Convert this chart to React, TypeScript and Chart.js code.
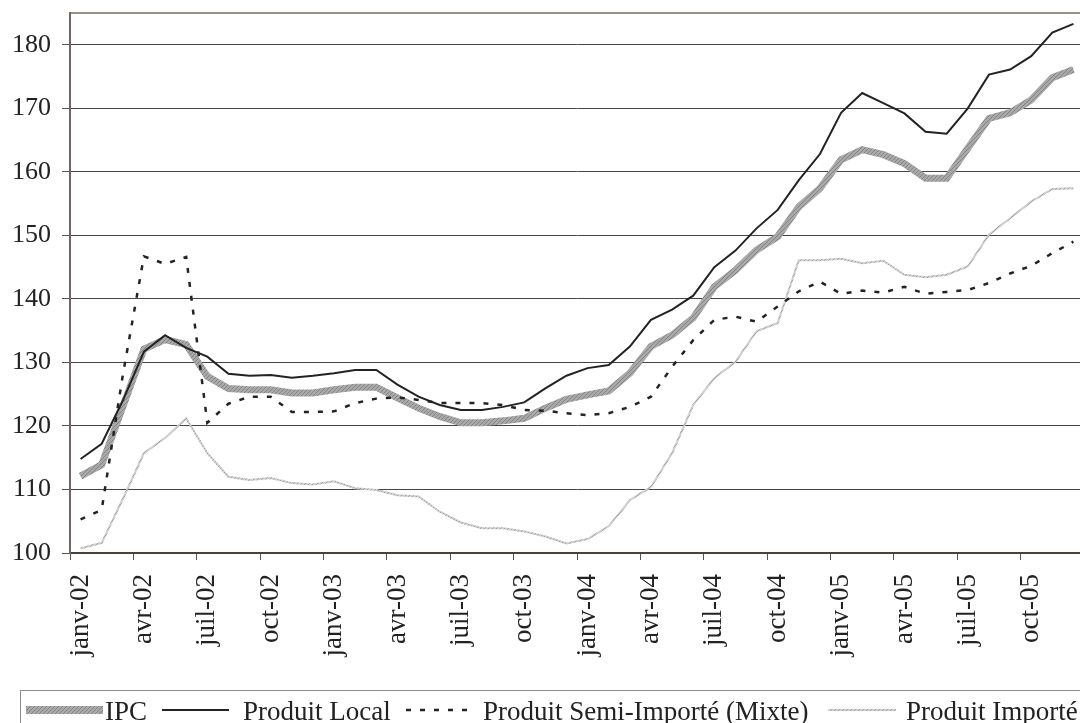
import React, { useEffect, useRef } from 'react';
import { Chart, registerables } from 'chart.js';

Chart.register(...registerables);

const LABELS = [
  'janv-02', 'févr-02', 'mars-02', 'avr-02', 'mai-02', 'juin-02', 'juil-02', 'août-02', 'sept-02', 'oct-02', 'nov-02', 'déc-02',
  'janv-03', 'févr-03', 'mars-03', 'avr-03', 'mai-03', 'juin-03', 'juil-03', 'août-03', 'sept-03', 'oct-03', 'nov-03', 'déc-03',
  'janv-04', 'févr-04', 'mars-04', 'avr-04', 'mai-04', 'juin-04', 'juil-04', 'août-04', 'sept-04', 'oct-04', 'nov-04', 'déc-04',
  'janv-05', 'févr-05', 'mars-05', 'avr-05', 'mai-05', 'juin-05', 'juil-05', 'août-05', 'sept-05', 'oct-05', 'nov-05', 'déc-05',
];

const IPC = [
  112.1, 113.9, 123.0, 132.1, 133.6, 132.8, 127.8, 125.9, 125.7, 125.7, 125.2, 125.2,
  125.7, 126.1, 126.1, 124.4, 122.8, 121.5, 120.5, 120.5, 120.8, 121.2, 122.8, 124.2,
  124.9, 125.5, 128.3, 132.5, 134.3, 137.0, 141.9, 144.5, 147.7, 149.8, 154.5, 157.4,
  161.9, 163.5, 162.7, 161.3, 159.0, 159.0, 163.7, 168.4, 169.3, 171.3, 174.8, 176.1,
];

const LOCAL = [
  114.8, 117.2, 124.0, 131.7, 134.3, 132.3, 130.9, 128.2, 127.9, 128.0, 127.6, 127.9,
  128.3, 128.8, 128.8, 126.5, 124.6, 123.3, 122.5, 122.5, 123.0, 123.7, 125.9, 127.9,
  129.1, 129.6, 132.5, 136.7, 138.3, 140.5, 145.0, 147.6, 151.1, 154.0, 158.7, 162.8,
  169.3, 172.4, 170.8, 169.2, 166.3, 166.0, 170.0, 175.3, 176.1, 178.2, 181.9, 183.3,
];

const SEMI = [
  105.3, 106.8, 128.0, 146.7, 145.5, 146.6, 120.5, 123.5, 124.6, 124.6, 122.2, 122.2,
  122.3, 123.6, 124.3, 124.5, 124.1, 123.6, 123.6, 123.6, 123.3, 122.5, 122.4, 122.0,
  121.7, 122.0, 123.0, 124.6, 129.3, 133.5, 136.7, 137.2, 136.4, 138.8, 141.2, 142.7,
  140.8, 141.3, 141.0, 141.9, 140.8, 141.1, 141.4, 142.5, 144.0, 145.2, 147.2, 149.0,
];

const IMPORTE = [
  100.7, 101.6, 108.5, 115.7, 118.1, 121.2, 115.7, 112.0, 111.5, 111.8, 111.0, 110.8,
  111.3, 110.2, 109.9, 109.1, 108.9, 106.5, 104.8, 103.9, 103.9, 103.4, 102.6, 101.5,
  102.2, 104.2, 108.3, 110.4, 115.7, 123.3, 127.5, 130.1, 134.9, 136.2, 146.1, 146.1,
  146.3, 145.6, 146.0, 143.8, 143.4, 143.8, 145.1, 150.1, 152.7, 155.3, 157.3, 157.4,
];

const SERIES_NAMES = ['IPC', 'Produit Local', 'Produit Semi-Importé (Mixte)', 'Produit Importé'];

const Y_MIN = 100;
const Y_MAX = 185;
const Y_STEP = 10;

const W = 1100;
const H = 740;
const FONT = "'Liberation Serif', 'Times New Roman', Times, serif";

function makePattern(base: string, dot: string) {
  const pc = document.createElement('canvas');
  pc.width = 4;
  pc.height = 4;
  const p = pc.getContext('2d')!;
  p.fillStyle = base;
  p.fillRect(0, 0, 4, 4);
  p.fillStyle = dot;
  p.fillRect(0, 0, 1, 1);
  p.fillRect(2, 2, 1, 1);
  p.fillRect(1, 3, 1, 1);
  p.fillRect(3, 1, 1, 1);
  return p.createPattern(pc, 'repeat')!;
}

const legendPlugin = {
  id: 'boxLegend',
  afterDraw(chart: any) {
    const ctx = chart.ctx as CanvasRenderingContext2D;
    ctx.save();
    ctx.strokeStyle = '#8c8c8c';
    ctx.lineWidth = 1;
    ctx.setLineDash([]);
    ctx.strokeRect(20.5, 690.5, 1200, 100);
    const markerX = [26, 162, 406, 828];
    const markerLen = [77, 67, 62, 68];
    const textX = [105, 243, 483, 906];
    const my = 710;
    chart.data.datasets.forEach((ds: any, i: number) => {
      ctx.save();
      ctx.strokeStyle = ds.borderColor;
      ctx.lineWidth = i === 0 ? 8 : ds.borderWidth;
      ctx.setLineDash(ds.borderDash || []);
      ctx.lineCap = 'butt';
      ctx.beginPath();
      ctx.moveTo(markerX[i], my);
      ctx.lineTo(markerX[i] + markerLen[i], my);
      ctx.stroke();
      ctx.restore();
      ctx.fillStyle = '#222';
      ctx.font = `27px ${FONT}`;
      ctx.textBaseline = 'alphabetic';
      ctx.textAlign = 'left';
      ctx.fillText(ds.label, textX[i], 720);
    });
    ctx.restore();
  },
};

export default function App() {
  const ref = useRef<HTMLCanvasElement>(null);

  useEffect(() => {
    const canvas = ref.current!;
    const ipcPattern = makePattern('#a9a9a9', '#858585');
    const impPattern = makePattern('#cfcfcf', '#a2a2a2');

    const chart = new Chart(canvas, {
      type: 'line',
      data: {
        labels: LABELS,
        datasets: [
          {
            label: SERIES_NAMES[0],
            data: IPC,
            borderColor: ipcPattern as any,
            borderWidth: 7,
            pointRadius: 0,
            tension: 0,
            order: 4,
          },
          {
            label: SERIES_NAMES[1],
            data: LOCAL,
            borderColor: '#232323',
            borderWidth: 2,
            pointRadius: 0,
            tension: 0,
            order: 1,
          },
          {
            label: SERIES_NAMES[2],
            data: SEMI,
            borderColor: '#232323',
            borderWidth: 2.5,
            borderDash: [5, 9],
            pointRadius: 0,
            tension: 0,
            order: 2,
          },
          {
            label: SERIES_NAMES[3],
            data: IMPORTE,
            borderColor: impPattern as any,
            borderWidth: 2,
            pointRadius: 0,
            tension: 0,
            order: 3,
          },
        ],
      },
      options: {
        responsive: false,
        animation: false,
        devicePixelRatio: 1,
        layout: { padding: { top: 13, right: W - 1084, left: 0, bottom: 0 } },
        plugins: {
          legend: { display: false },
          tooltip: { enabled: false },
        },
        scales: {
          x: {
            type: 'category',
            offset: true,
            grid: {
              offset: true,
              drawOnChartArea: false,
              drawTicks: true,
              tickLength: 7,
              tickWidth: 1,
              tickColor: (c: any) => (c.index % 3 === 0 ? '#555' : 'rgba(0,0,0,0)'),
            },
            border: { color: '#4a403c', width: 2 },
            ticks: {
              autoSkip: false,
              maxRotation: 90,
              minRotation: 90,
              padding: 14,
              color: '#222',
              font: { family: FONT, size: 27 },
              callback: (_v: any, i: number) => (i % 3 === 0 ? LABELS[i] : ''),
            },
            afterFit: (s: any) => {
              s.height = H - 553;
              s.paddingLeft = 0;
              s.paddingRight = 0;
            },
          },
          y: {
            min: Y_MIN,
            max: Y_MAX,
            ticks: {
              stepSize: Y_STEP,
              padding: 11,
              color: '#222',
              font: { family: FONT, size: 26 },
              callback: (v: any) => (v === Y_MAX ? '' : String(v)),
            },
            grid: {
              color: (c: any) => (c.tick && c.tick.value === Y_MAX ? '#9b8f8a' : '#454545'),
              lineWidth: (c: any) => (c.tick && c.tick.value === Y_MAX ? 2 : 1),
              tickLength: 8,
              tickColor: (c: any) => (c.tick && c.tick.value === Y_MAX ? 'rgba(0,0,0,0)' : '#555'),
            },
            border: { color: '#6e6462', width: 2 },
            afterFit: (s: any) => {
              s.width = 70;
              s.paddingTop = 0;
              s.paddingBottom = 0;
            },
          },
        },
      },
      plugins: [legendPlugin],
    });

    return () => chart.destroy();
  }, []);

  return (
    <div
      style={{
        position: 'fixed',
        left: 0,
        top: 0,
        width: 1080,
        height: 723,
        overflow: 'hidden',
        background: '#fff',
      }}
    >
      <canvas ref={ref} width={W} height={H} style={{ width: W, height: H, display: 'block' }} />
    </div>
  );
}
